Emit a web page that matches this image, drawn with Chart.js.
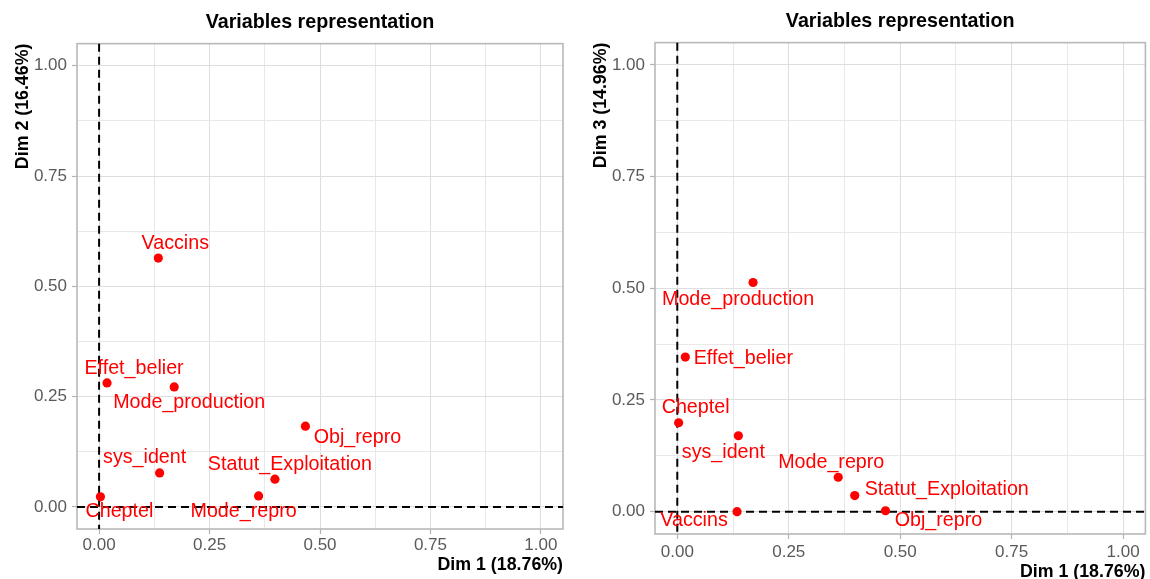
<!DOCTYPE html>
<html><head><meta charset="utf-8">
<script src="https://cdn.jsdelivr.net/npm/chart.js@4"></script>
<style>
html,body{margin:0;padding:0;background:#fff;overflow:hidden}
#wrap{position:relative;width:1150px;height:579px}
canvas{position:absolute;top:0}
</style></head><body>
<div id="wrap">
<canvas id="c1" width="575" height="579" style="left:0"></canvas>
<canvas id="c2" width="575" height="579" style="left:575px"></canvas>
</div>
<script>
// ---- data ----
const variables = ['Vaccins','Effet_belier','Mode_production','Obj_repro','sys_ident','Statut_Exploitation','Mode_repro','Cheptel'];
const dim1 = [0.134, 0.018, 0.170, 0.467, 0.137, 0.398, 0.361, 0.003];
const dim2 = [0.564, 0.281, 0.272, 0.183, 0.077, 0.063, 0.025, 0.023];
const dim3 = [0.000, 0.346, 0.513, 0.002, 0.170, 0.036, 0.077, 0.199];
const tickValues = [0, 0.25, 0.5, 0.75, 1];
const tickLabels = ['0.00', '0.25', '0.50', '0.75', '1.00'];
const chartTitle = 'Variables representation';
const xTitle = 'Dim 1 (18.76%)';
const yTitle12 = 'Dim 2 (16.46%)';
const yTitle13 = 'Dim 3 (14.96%)';

// ---- label placement (pixel offsets, style only) ----
const offsets12 = [[17,-15],[27,-14],[15,16],[52,11],[-15,-15],[15,-15],[-15,16],[19,15]];
const offsets13 = [[-43,9],[58,1],[-15,17],[53,10],[-15,17],[92,-6],[-7,-15],[17,-15]];

const FONT = '"Liberation Sans", Arial, sans-serif';
const isMajor = v => tickValues.some(t => Math.abs(t - v) < 1e-9);

const decor = {
  id: 'decor',
  beforeDatasetsDraw(chart) {
    const {ctx, chartArea: a, scales: {x, y}} = chart;
    ctx.save();
    ctx.strokeStyle = '#B8B8B8';
    ctx.lineWidth = 1.6;
    ctx.strokeRect(a.left, a.top, a.right - a.left, a.bottom - a.top);
    ctx.strokeStyle = '#000';
    ctx.lineWidth = 2;
    ctx.setLineDash([8, 5]);
    const x0 = x.getPixelForValue(0), y0 = y.getPixelForValue(0);
    ctx.beginPath(); ctx.moveTo(x0, a.top); ctx.lineTo(x0, a.bottom); ctx.stroke();
    ctx.beginPath(); ctx.moveTo(a.left, y0); ctx.lineTo(a.right, y0); ctx.stroke();
    ctx.restore();
  },
  afterDatasetsDraw(chart, args, opts) {
    const {ctx} = chart;
    const meta = chart.getDatasetMeta(0);
    ctx.save();
    ctx.fillStyle = '#FF0000';
    ctx.font = '19.7px ' + FONT;
    ctx.textAlign = 'center';
    ctx.textBaseline = 'middle';
    meta.data.forEach((pt, i) => {
      const o = opts.offsets[i];
      ctx.fillText(variables[i], pt.x + o[0], pt.y + o[1]);
    });
    ctx.restore();
  }
};

function makeChart(id, yVals, yTitle, cfg) {
  const pts = dim1.map((v, i) => ({x: v, y: yVals[i]}));
  const axisCommon = {
    type: 'linear', min: -0.05, max: 1.05,
    border: {display: false},
    grid: {
      color: c => (c.tick && isMajor(c.tick.value)) ? '#DEDEDE' : '#E8E8E8',
      lineWidth: 1,
      tickLength: 5,
      tickColor: c => (c.tick && isMajor(c.tick.value)) ? '#B3B3B3' : 'rgba(0,0,0,0)',
      tickWidth: 1.2
    },
  };
  const tickCommon = {
    stepSize: 0.125, includeBounds: false, autoSkip: false, maxRotation: 0,
    color: '#5A5A5A', font: {family: FONT, size: 17},
    callback: v => { const i = tickValues.findIndex(t => Math.abs(t - v) < 1e-9); return i >= 0 ? tickLabels[i] : ''; }
  };
  return new Chart(document.getElementById(id), {
    type: 'scatter',
    data: {datasets: [{data: pts, backgroundColor: '#FF0000', borderWidth: 0, pointRadius: 4.6}]},
    options: {
      responsive: false, animation: false,
      layout: {padding: {left: 0, right: cfg.padRight, top: 0, bottom: 0}},
      plugins: {
        legend: {display: false}, tooltip: {enabled: false},
        title: {display: true, text: chartTitle, fullSize: false, color: '#000',
          font: {family: FONT, size: 19.7, weight: 'bold'}, padding: {top: cfg.titleTop, bottom: 9}},
        decor: {offsets: cfg.offsets}
      },
      scales: {
        x: Object.assign({}, axisCommon, {
          position: 'bottom',
          ticks: Object.assign({}, tickCommon, {padding: cfg.xTickPad}),
          title: {display: true, text: xTitle, align: 'end', color: '#000',
            font: {family: FONT, size: 17.8, weight: 'bold'}, padding: {top: 0, bottom: cfg.xTitlePad}},
          afterFit: s => { s.height = cfg.xHeight; }
        }),
        y: Object.assign({}, axisCommon, {
          position: 'left',
          ticks: Object.assign({}, tickCommon, {padding: 5}),
          title: {display: true, text: yTitle, align: 'end', color: '#000',
            font: {family: FONT, size: 17.8, weight: 'bold'}, padding: {top: cfg.yTitlePad, bottom: 0}},
          afterFit: s => { s.width = cfg.yWidth; }
        })
      }
    },
    plugins: [decor]
  });
}

makeChart('c1', dim2, yTitle12, {padRight: 12, titleTop: 11, xHeight: 50, yWidth: 77, xTitlePad: 3, xTickPad: 1, yTitlePad: 12, offsets: offsets12});
makeChart('c2', dim3, yTitle13, {padRight: 4, titleTop: 10, xHeight: 45, yWidth: 80, xTitlePad: -3.5, xTickPad: 3, yTitlePad: 15, offsets: offsets13});
</script>
</body></html>
